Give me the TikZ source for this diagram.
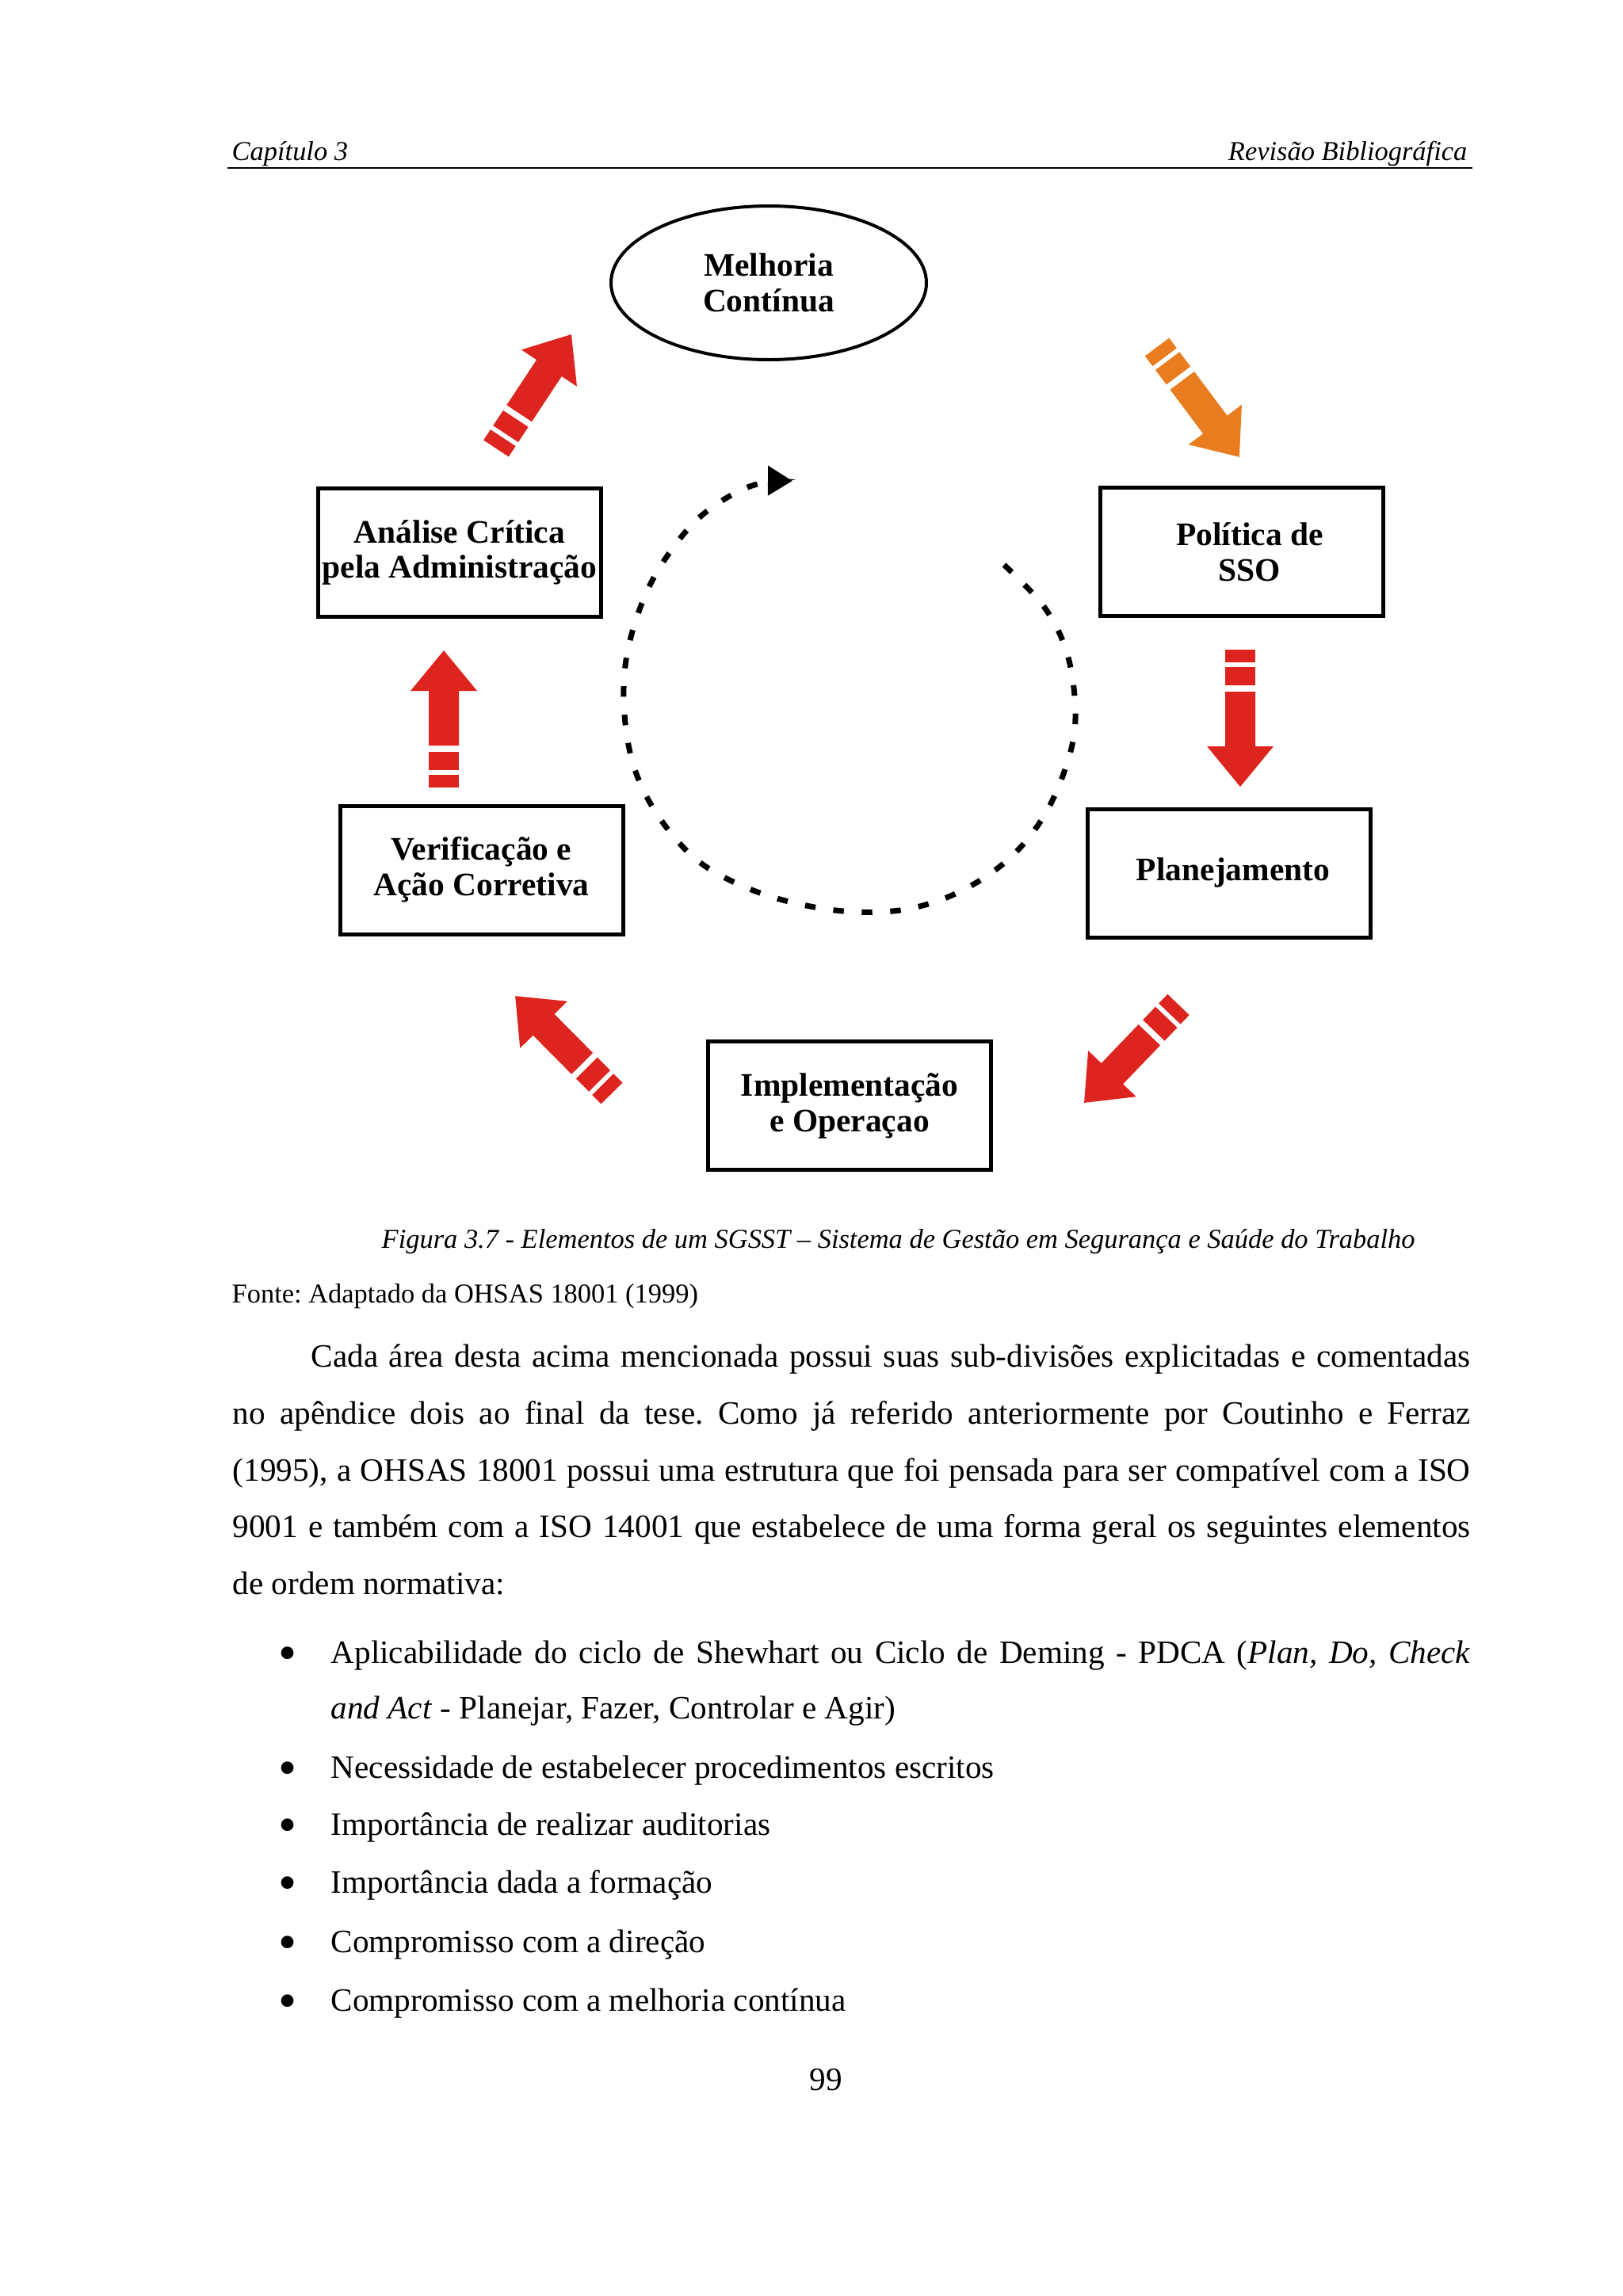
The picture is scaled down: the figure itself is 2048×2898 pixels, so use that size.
\documentclass[tikz,border=0pt]{standalone}
\usepackage{fontspec}
\setmainfont{Liberation Serif}
\usetikzlibrary{calc,shapes.geometric,arrows.meta}
\frenchspacing
\definecolor{arrred}{RGB}{222,36,30}
\definecolor{arrorange}{RGB}{232,124,30}
\newcommand\lblfont{\fontsize{11.8}{12.8}\selectfont\bfseries}
\newcommand\bodyfont{\fontsize{11.72}{14}\selectfont}
\newcommand\smallfont{\fontsize{9.8}{12}\selectfont}
\newcommand\bigbullet{\raisebox{-0.22em}{\scalebox{1.6}{\textbullet}}}
% striped block arrow from coordinate #1 (tail) to coordinate #2 (tip), colour #3
\newcommand\stripearrow[3]{%
  \pgfpointdiff{\pgfpointanchor{#1}{center}}{\pgfpointanchor{#2}{center}}%
  \pgfgetlastxy\SAdx\SAdy
  \pgfmathsetmacro\SAang{atan2(\SAdy,\SAdx)}%
  \pgfmathsetmacro\SAlen{veclen(\SAdx,\SAdy)/0.284528}%
  \begin{scope}[shift={(#1)},rotate=\SAang]
    \fill[#3] (0,-19) rectangle (16,19);
    \fill[#3] (22,-19) rectangle (45,19);
    \fill[#3] (53,-19) -- ({\SAlen-51},-19) -- ({\SAlen-51},-42) -- (\SAlen,0)
      -- ({\SAlen-51},42) -- ({\SAlen-51},19) -- (53,19) -- cycle;
  \end{scope}}
\begin{document}
\begin{tikzpicture}[x=0.1mm,y=-0.1mm,
  box/.style={draw, line width=0.5mm, minimum width=35.7mm, minimum height=16.2mm,
    align=center, inner sep=0pt, font=\lblfont},
  oval/.style={ellipse, draw, line width=0.4mm, minimum width=39.8mm, minimum height=19.4mm,
    align=center, inner sep=0pt, font=\lblfont},
  txt/.style={anchor=base west, inner sep=0pt, font=\bodyfont},
  hdr/.style={inner sep=0pt, font=\smallfont\itshape},
  cyc/.style={line width=0.7mm, dash pattern=on 1.34mm off 2.26mm,
    -{Triangle[length=3.1mm,width=3.6mm]}}]
\fill[white] (0,0) rectangle (2048,2898);
\useasboundingbox (0,0) rectangle (2048,2898);

% header
\node[hdr, anchor=base west] (hl) at (292,202) {Capítulo 3};
\node[hdr, anchor=base east] (hr) at (1852,202) {Revisão Bibliográfica};
\coordinate (rl) at (287,212);
\coordinate (rr) at (1858,212);
\draw[line width=0.25mm] (rl) -- (rr);

% diagram nodes
\node[oval] (mc) at (970,357) {Melhoria\\Contínua};
\node[box] (pol) at (1567,696.5) {\hspace*{2mm}Política de\\\hspace*{2mm}SSO};
\node[box] (pla) at (1551,1102) {\hspace*{1mm}Planejamento};
\node[box] (imp) at (1072,1395.5) {Implementação\\e Operaçao};
\node[box] (ver) at (607.5,1098) {Verificação e\\Ação Corretiva};
\node[box] (ana) at (580,697.5) {Análise Crítica\\pela Administração};

% arrow end points
\coordinate (a1t) at (1460,438);  \coordinate (a1h) at (1564,577);
\coordinate (a2t) at (1565,820);  \coordinate (a2h) at (1565,993);
\coordinate (a3t) at (1487,1268); \coordinate (a3h) at (1368,1392);
\coordinate (a4t) at (772,1380);  \coordinate (a4h) at (650,1257);
\coordinate (a5t) at (560,994);   \coordinate (a5h) at (560,821);
\coordinate (a6t) at (626,566);   \coordinate (a6h) at (721,422);
\stripearrow{a1t}{a1h}{arrorange}
\stripearrow{a2t}{a2h}{arrred}
\stripearrow{a3t}{a3h}{arrred}
\stripearrow{a4t}{a4h}{arrred}
\stripearrow{a5t}{a5h}{arrred}
\stripearrow{a6t}{a6h}{arrred}

% dashed cycle
\draw[cyc] plot[smooth, tension=0.6] coordinates {(1267,713) (1319,768) (1348,830) (1357,907)
  (1345,968) (1316,1032) (1272,1085) (1212,1125) (1147,1147) (1079,1151) (1008,1141)
  (941,1120) (880,1086) (832,1032) (801,971) (788,902) (790,833) (809,764) (839,706)
  (885,651) (946,614) (1000,607)};

% caption and source
\node[hdr, anchor=base west] (cap) at (481,1575) {Figura 3.7 - Elementos de um SGSST – Sistema de Gestão em Segurança e Saúde do Trabalho};
\node[inner sep=0pt, anchor=base west, font=\smallfont] (src) at (292,1644) {Fonte: Adaptado da OHSAS 18001 (1999)};

% paragraph
\node[txt] (p1) at (392,1725) {\makebox[146.3mm][s]{Cada área desta acima mencionada possui suas sub-divisões explicitadas e comentadas}};
\node[txt] (p2) at (293,1797) {\makebox[156.2mm][s]{no apêndice dois ao final da tese. Como já referido anteriormente por Coutinho e Ferraz}};
\node[txt] (p3) at (293,1869) {\makebox[156.2mm][s]{(1995), a OHSAS 18001 possui uma estrutura que foi pensada para ser compatível com a ISO}};
\node[txt] (p4) at (293,1940) {\makebox[156.2mm][s]{9001 e também com a ISO 14001 que estabelece de uma forma geral os seguintes elementos}};
\node[txt] (p5) at (293,2012) {de ordem normativa:};

% bullet list
\node[txt, anchor=base] (b1) at (363,2099) {\bigbullet};
\node[txt] (l1a) at (417,2099) {\makebox[143.8mm][s]{Aplicabilidade do ciclo de Shewhart ou Ciclo de Deming - PDCA (\textit{Plan, Do, Check}}};
\node[txt] (l1b) at (417,2169) {\textit{and Act} - Planejar, Fazer, Controlar e Agir)};
\node[txt, anchor=base] (b2) at (363,2244) {\bigbullet};
\node[txt] (l2) at (417,2244) {Necessidade de estabelecer procedimentos escritos};
\node[txt, anchor=base] (b3) at (363,2316) {\bigbullet};
\node[txt] (l3) at (417,2316) {Importância de realizar auditorias};
\node[txt, anchor=base] (b4) at (363,2389) {\bigbullet};
\node[txt] (l4) at (417,2389) {Importância dada a formação};
\node[txt, anchor=base] (b5) at (363,2464) {\bigbullet};
\node[txt] (l5) at (417,2464) {Compromisso com a direção};
\node[txt, anchor=base] (b6) at (363,2538) {\bigbullet};
\node[txt] (l6) at (417,2538) {Compromisso com a melhoria contínua};

% page number
\node[txt, anchor=base] (pg) at (1042,2638) {99};
\end{tikzpicture}
\end{document}
